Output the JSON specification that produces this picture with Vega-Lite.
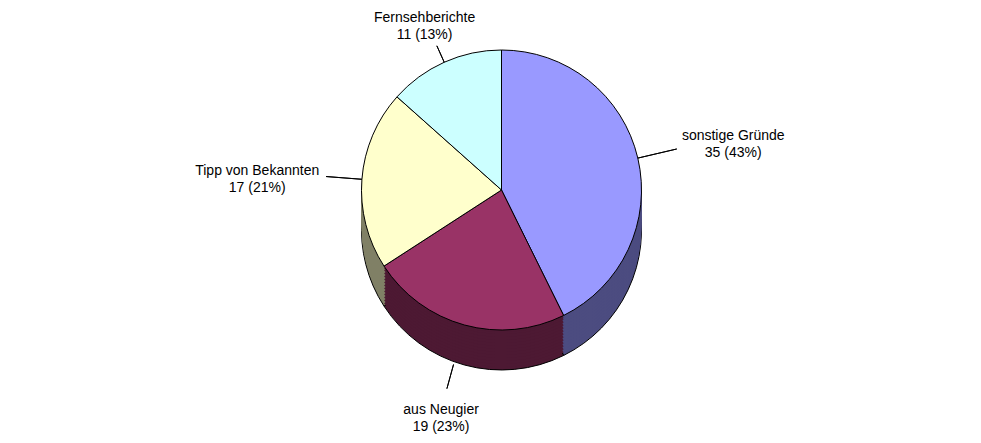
{
  "$schema": "https://vega.github.io/schema/vega-lite/v6.json",
  "width": 981,
  "height": 443,
  "autosize": {"type": "fit", "contains": "padding"},
  "padding": {"left": 22, "right": 0, "top": 4, "bottom": 44},
  "background": "white",
  "config": {"view": {"stroke": null}, "font": "Liberation Sans"},
  "data": {
    "values": [
      {"Grund": "sonstige Gründe", "Anzahl": 35, "Anteil": "43%", "Reihenfolge": 1, "Label": "sonstige Gründe\n35 (43%)"},
      {"Grund": "aus Neugier", "Anzahl": 19, "Anteil": "23%", "Reihenfolge": 2, "Label": "aus Neugier\n19 (23%)"},
      {"Grund": "Tipp von Bekannten", "Anzahl": 17, "Anteil": "21%", "Reihenfolge": 3, "Label": "Tipp von Bekannten\n17 (21%)"},
      {"Grund": "Fernsehberichte", "Anzahl": 11, "Anteil": "13%", "Reihenfolge": 4, "Label": "Fernsehberichte\n11 (13%)"}
    ]
  },
  "encoding": {
    "theta": {"field": "Anzahl", "type": "quantitative", "stack": true},
    "order": {"field": "Reihenfolge", "type": "quantitative"}
  },
  "layer": [
    {
      "encoding": {
        "color": {"field": "Grund", "type": "nominal", "legend": null,
          "scale": {"domain": ["sonstige Gründe", "aus Neugier", "Tipp von Bekannten", "Fernsehberichte"],
                    "range": ["#4C4C80", "#4D1933", "#808066", "#668080"]}}
      },
      "layer": [
        {"mark": {"type": "arc", "radius": 140, "yOffset": 40, "stroke": "black", "strokeWidth": 1}},
        {"mark": {"type": "arc", "radius": 140, "yOffset": 37}},
        {"mark": {"type": "arc", "radius": 140, "yOffset": 34}},
        {"mark": {"type": "arc", "radius": 140, "yOffset": 31}},
        {"mark": {"type": "arc", "radius": 140, "yOffset": 28}},
        {"mark": {"type": "arc", "radius": 140, "yOffset": 25}},
        {"mark": {"type": "arc", "radius": 140, "yOffset": 22}},
        {"mark": {"type": "arc", "radius": 140, "yOffset": 19}},
        {"mark": {"type": "arc", "radius": 140, "yOffset": 16}},
        {"mark": {"type": "arc", "radius": 140, "yOffset": 13}},
        {"mark": {"type": "arc", "radius": 140, "yOffset": 10}},
        {"mark": {"type": "arc", "radius": 140, "yOffset": 7}},
        {"mark": {"type": "arc", "radius": 140, "yOffset": 4}},
        {"mark": {"type": "arc", "radius": 140, "yOffset": 2}}
      ]
    },
    {
      "mark": {"type": "arc", "radius": 140, "stroke": "black", "strokeWidth": 1},
      "encoding": {
        "fill": {"field": "Grund", "type": "nominal", "legend": null,
          "scale": {"domain": ["sonstige Gründe", "aus Neugier", "Tipp von Bekannten", "Fernsehberichte"],
                    "range": ["#9999FF", "#993366", "#FFFFCC", "#CCFFFF"]}}
      }
    },
    {
      "mark": {"type": "arc", "padAngle": 3, "fill": null, "stroke": "black", "strokeWidth": 1,
        "radius": {"expr": "datum.Grund === 'aus Neugier' ? 181 : 140"},
        "radius2": {"expr": "datum.Grund === 'aus Neugier' ? 206 : datum.Grund === 'sonstige Gründe' ? 180 : datum.Grund === 'Tipp von Bekannten' ? 176 : 158"}
      }
    },
    {
      "mark": {"type": "text", "lineBreak": "\n", "fontSize": 14, "baseline": "middle", "align": "center", "lineHeight": 17, "color": "black",
        "radius": {"expr": "datum.Grund === 'aus Neugier' ? 228 : datum.Grund === 'sonstige Gründe' ? 238 : datum.Grund === 'Tipp von Bekannten' ? 245 : 188"}
      },
      "encoding": {
        "text": {"field": "Label"}
      }
    }
  ]
}
